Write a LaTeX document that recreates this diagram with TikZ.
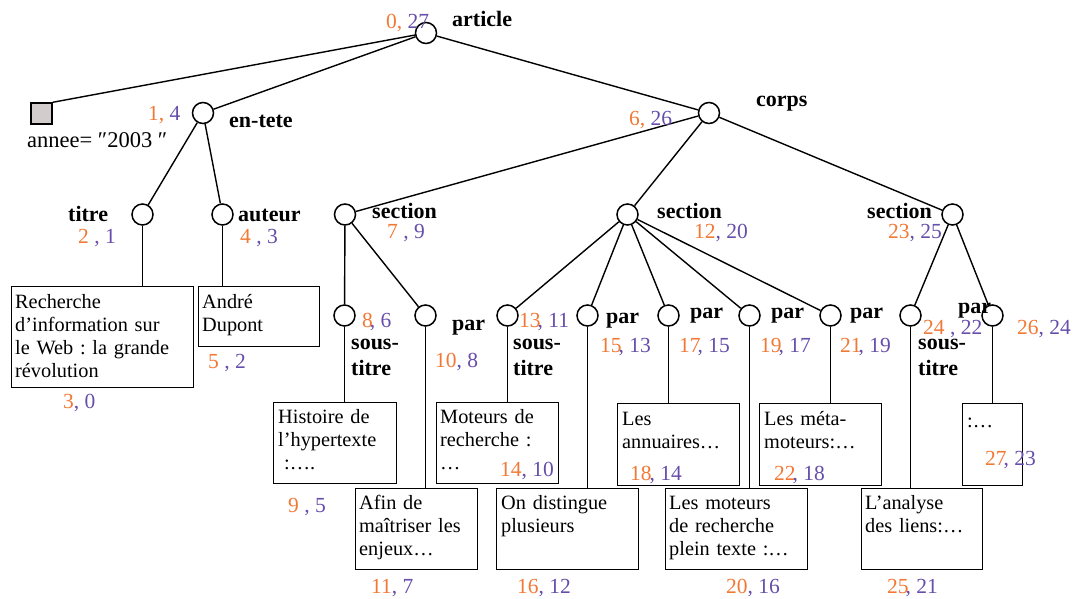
\documentclass[tikz,border=0pt]{standalone}
\usepackage{fontspec}
\setmainfont{Liberation Serif}
\frenchspacing
\definecolor{orng}{RGB}{242,121,53}
\definecolor{purp}{RGB}{102,78,170}
\definecolor{sqgray}{RGB}{210,204,204}
\newcommand{\np}[2]{\textcolor{orng}{#1}\textcolor{purp}{#2}}
\tikzset{
  vtx/.style={circle, draw, line width=1.5pt, minimum size=21pt, inner sep=0pt, fill=white},
  leaf/.style={rectangle, draw, line width=1.4pt, anchor=north west, inner sep=0pt},
  edge/.style={line width=1.4pt},
  lbl/.style={anchor=base west, inner sep=0pt, font=\fontsize{22}{26}\selectfont\bfseries},
  lbl2/.style={lbl, text width=60pt, align=left},
  num/.style={anchor=base west, inner sep=0pt, font=\fontsize{21.5}{24}\selectfont},
  txt/.style={anchor=base west, inner sep=0pt, font=\fontsize{20.3}{23}\selectfont, align=left, text width=#1},
  txt/.default=140pt
}
\begin{document}
\begin{tikzpicture}[x=1pt,y=-1pt]
\useasboundingbox (0,0) rectangle (1076,599);

% ---- tree vertices
\node[vtx] (art)   at (426,33) {};
\node[rectangle, draw, line width=1.4pt, fill=sqgray, minimum size=21pt, inner sep=0pt] (annee) at (41.5,113.5) {};
\node[vtx] (ent)   at (203,113) {};
\node[vtx] (corps) at (709,113) {};
\node[vtx] (titre) at (142.5,214.5) {};
\node[vtx] (aut)   at (222.5,214.5) {};
\node[vtx] (s1)    at (345,214.5) {};
\node[vtx] (s2)    at (627.5,214.5) {};
\node[vtx] (s3)    at (952.5,214.5) {};
\node[vtx] (st1)   at (344.5,315.5) {};
\node[vtx] (p1)    at (425.5,315.5) {};
\node[vtx] (st2)   at (507.5,315.5) {};
\node[vtx] (p2)    at (587.5,315.5) {};
\node[vtx] (p3)    at (668.5,315.5) {};
\node[vtx] (p4)    at (749.5,315.5) {};
\node[vtx] (p5)    at (830.5,315.5) {};
\node[vtx] (st3)   at (910.5,315.5) {};
\node[vtx] (p6)    at (992.5,315.5) {};

% ---- leaf boxes
\node[leaf, minimum width=182pt, minimum height=101pt] (b1)  at (11,286) {};
\node[leaf, minimum width=121pt, minimum height=60pt]  (b2)  at (198,286) {};
\node[leaf, minimum width=123pt, minimum height=81pt]  (bH)  at (273,402) {};
\node[leaf, minimum width=122pt, minimum height=81pt]  (bA)  at (355,488) {};
\node[leaf, minimum width=122pt, minimum height=81pt]  (bM)  at (436,402) {};
\node[leaf, minimum width=142pt, minimum height=81pt]  (bO)  at (496,488) {};
\node[leaf, minimum width=122pt, minimum height=82pt]  (bL)  at (617,403) {};
\node[leaf, minimum width=142pt, minimum height=81pt]  (bLM) at (665,488) {};
\node[leaf, minimum width=122pt, minimum height=82pt]  (bMe) at (759,403) {};
\node[leaf, minimum width=121pt, minimum height=81pt]  (bAn) at (861,488) {};
\node[leaf, minimum width=60pt,  minimum height=82pt]  (bD)  at (962,403) {};

% ---- connectors
\draw[edge] (art) -- (annee.north east);
\draw[edge] (art) -- (ent);
\draw[edge] (art) -- (corps);
\draw[edge] (ent) -- (titre);
\draw[edge] (ent) -- (aut);
\draw[edge] (corps) -- (s1);
\draw[edge] (corps) -- (s2);
\draw[edge] (corps) -- (s3);
\draw[edge] (s1) -- (st1);
\draw[edge] (s1) -- (p1);
\draw[edge] (s2) -- (st2);
\draw[edge] (s2) -- (p2);
\draw[edge] (s2) -- (p3);
\draw[edge] (s2) -- (p4);
\draw[edge] (s2) -- (p5);
\draw[edge] (s3) -- (st3);
\draw[edge] (s3) -- (p6);
\draw[edge] (titre) -- (titre |- b1.north);
\draw[edge] (aut) -- (aut |- b2.north);
\draw[edge] (st1) -- (st1 |- bH.north);
\draw[edge] (p1) -- (p1 |- bA.north);
\draw[edge] (st2) -- (st2 |- bM.north);
\draw[edge] (p2) -- (p2 |- bO.north);
\draw[edge] (p3) -- (p3 |- bL.north);
\draw[edge] (p4) -- (p4 |- bLM.north);
\draw[edge] (p5) -- (p5 |- bMe.north);
\draw[edge] (st3) -- (st3 |- bAn.north);
\draw[edge] (p6) -- (p6 |- bD.north);

% ---- box texts
\node[txt=175pt] (t1)  at (15,308)  {Recherche\\d’information sur\\le Web : la grande\\révolution};
\node[txt=115pt] (t2)  at (202,308) {André\\Dupont};
\node[txt=118pt] (tH)  at (278,423) {Histoire de\\l’hypertexte\\\hspace*{6pt}:….};
\node[txt=118pt] (tM)  at (440,423) {Moteurs de\\recherche :\\…};
\node[txt=118pt] (tA)  at (359,509) {Afin de\\maîtriser les\\enjeux…};
\node[txt=138pt] (tO)  at (501,509) {On distingue\\plusieurs};
\node[txt=118pt] (tL)  at (622,425) {Les\\annuaires…};
\node[txt=138pt] (tLM) at (669,509) {Les moteurs\\de recherche\\plein texte :…};
\node[txt=118pt] (tMe) at (764,425) {Les méta-\\moteurs:…};
\node[txt=118pt] (tAn) at (865,509) {L’analyse\\des liens:…};
\node[txt=55pt]  (tD)  at (967,427) {:…};
\node[anchor=base west, inner sep=0pt, font=\fontsize{22.5}{24}\selectfont] (tannee) at (27,148) {annee= ″2003 ″};

% ---- element names
\node[lbl] (l-art)   at (452,27)  {article};
\node[lbl] (l-ent)   at (229,128) {en-tete};
\node[lbl] (l-corps) at (756,107) {corps};
\node[lbl] (l-titre) at (68,221)  {titre};
\node[lbl] (l-aut)   at (238,221) {auteur};
\node[lbl] (l-s1)    at (372,218) {section};
\node[lbl] (l-s2)    at (657,218) {section};
\node[lbl] (l-s3)    at (867,218) {section};
\node[lbl2] (l-st1)  at (351,349) {sous-\\titre};
\node[lbl2] (l-st2)  at (513,349) {sous-\\titre};
\node[lbl2] (l-st3)  at (918,349) {sous-\\titre};
\node[lbl] (l-p1)    at (452,330) {par};
\node[lbl] (l-p2)    at (606,323) {par};
\node[lbl] (l-p3)    at (690,318) {par};
\node[lbl] (l-p4)    at (771,318) {par};
\node[lbl] (l-p5)    at (850,318) {par};
\node[lbl] (l-p6)    at (958,313) {par};

% ---- numbers
\node[num] (n-art)   at (386,29)  {\np{0,\ }{27}};
\node[num] (n-ent)   at (148,121) {\np{1,\ }{4}};
\node[num] (n-corps) at (629,125) {\np{6,\ }{26}};
\node[num] (n-titre) at (78,243)  {\np{2\ }{,\ 1}};
\node[num] (n-aut)   at (240,243) {\np{4\ }{,\ 3}};
\node[num] (n-s1)    at (387,238) {\np{7\ }{,\ 9}};
\node[num] (n-st1)   at (362,327) {\np{8}{\kern-3pt,\ 6}};
\node[num] (n-p1)    at (435,367) {\np{10}{,\ 8}};
\node[num] (n-b1)    at (63,408)  {\np{3}{,\ 0}};
\node[num] (n-b2)    at (208,368) {\np{5\ }{,\ 2}};
\node[num] (n-s2)    at (694,238) {\np{12}{,\ 20}};
\node[num] (n-s3)    at (888,238) {\np{23}{,\ 25}};
\node[num] (n-st2)   at (519,327) {\np{13}{\kern-3pt,\ 11}};
\node[num] (n-p2)    at (600,352) {\np{15}{\kern-3pt,\ 13}};
\node[num] (n-p3)    at (679,352) {\np{17}{\kern-3pt,\ 15}};
\node[num] (n-p4)    at (760,352) {\np{19}{\kern-3pt,\ 17}};
\node[num] (n-p5)    at (840,352) {\np{21}{\kern-3pt,\ 19}};
\node[num] (n-st3)   at (923,334) {\np{24\ }{,\ 22}};
\node[num] (n-p6)    at (1017,334) {\np{26}{,\ 24}};
\node[num] (n-bH)    at (288,512) {\np{9\ }{,\ 5}};
\node[num] (n-bA)    at (371,593) {\np{11}{,\ 7}};
\node[num] (n-bM)    at (500,476) {\np{14}{,\ 10}};
\node[num] (n-bO)    at (517,593) {\np{16}{,\ 12}};
\node[num] (n-bL)    at (630,480) {\np{18}{\kern-2pt,\ 14}};
\node[num] (n-bLM)   at (726,593) {\np{20}{,\ 16}};
\node[num] (n-bMe)   at (774,480) {\np{22}{\kern-3pt,\ 18}};
\node[num] (n-bAn)   at (887,593) {\np{25}{\kern-3pt,\ 21}};
\node[num] (n-bD)    at (985,465) {\np{27}{\kern-3pt,\ 23}};
\end{tikzpicture}
\end{document}
